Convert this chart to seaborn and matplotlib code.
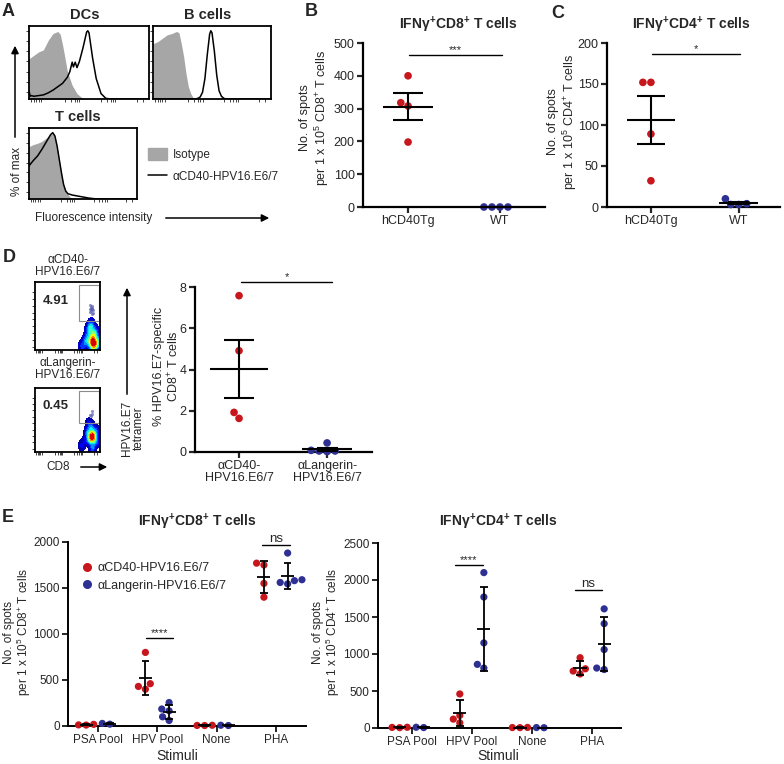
import warnings
import numpy as np
import pandas as pd
import matplotlib
matplotlib.use("Agg")
import matplotlib.pyplot as plt
from matplotlib.patches import FancyArrowPatch, Rectangle, Patch
from matplotlib.lines import Line2D
import seaborn as sns

warnings.filterwarnings("ignore")

# ---------------- data ----------------
# A: histograms (x = fluorescence, 0-1 scale; y = fraction of max)
dc_iso_x = [0, .04, .08, .12, .16, .20, .24, .26, .28, .30, .32, .36, .40, .44, .48, 1.0]
dc_iso_y = [.59, .64, .69, .72, .86, .96, .99, .95, .79, .60, .40, .20, .08, .02, 0, 0]
dc_ab_x = [0, .01, .02, .04, .08, .12, .16, .20, .24, .28, .32, .34, .36, .37, .385, .40,
           .42, .45, .48, .49, .50, .53, .56, .60, .64, .68, 1.0]
dc_ab_y = [.12, .04, .05, .04, .05, .06, .09, .13, .18, .23, .32, .40, .54, .47, .54, .46,
           .55, .75, .98, 1.0, .97, .60, .30, .08, .01, 0, 0]
b_iso_x = [0, .04, .08, .12, .16, .20, .22, .24, .26, .28, .30, .32, .34, .36, 1.0]
b_iso_y = [.81, .84, .89, .94, .96, .99, .97, .81, .62, .37, .18, .08, .02, 0, 0]
b_ab_x = [0, .36, .38, .40, .42, .44, .46, .48, .49, .50, .52, .54, .56, .58, .60, .62, 1.0]
b_ab_y = [0, 0, .01, .03, .10, .30, .65, .95, 1.0, .97, .70, .35, .12, .04, .01, 0, 0]
t_iso_x = [0, .04, .08, .12, .16, .20, .22, .24, .26, .28, .30, .32, .34, .36, .38, .40, .44, 1.0]
t_iso_y = [.79, .82, .84, .87, .92, .97, .99, .94, .79, .59, .39, .22, .12, .07, .03, .01, 0, 0]
t_ab_x = [0, .04, .08, .12, .16, .20, .22, .24, .26, .28, .30, .32, .34, .36, .40, .45,
          .50, .55, .60, .65, 1.0]
t_ab_y = [.50, .58, .65, .75, .86, .97, 1.0, .95, .80, .60, .40, .22, .12, .08, .06, .045,
          .03, .015, .005, 0, 0]

# B / C: ELISpot per mouse
mice = ["hCD40Tg", "WT"]
b_hcd40 = [400, 318, 308, 198]
b_wt = [0, 0, 0, 0]
c_hcd40 = [152, 152, 89, 32]
c_wt = [3, 3, 4, 10]

# D: flow events (CD8 vs tetramer, 0-1 scale) and tetramer+ frequencies
f1_cd8 = [.72, .77, .81, .84, .855, .87, .885, .885, .90, .915, .915, .93, .945, .96, .97, .855,
          .885, .915, .87, .90, .825, .795, .885, .93, .87]
f1_tet = [.05, .10, .20, .10, .28, .08, .14, .18, .10, .04, .22, .12, .08, .16, .10, .34, .12,
          .06, .16, .24, .30, .14, .02, .28, .38]
f1g_cd8 = [.84, .86, .87, .88, .86, .89, .85, .88, .87, .86, .89, .85]
f1g_tet = [.56, .60, .64, .62, .58, .55, .66, .53, .60, .63, .59, .61]
f2_cd8 = [.72, .78, .81, .84, .855, .87, .885, .90, .90, .915, .93, .945, .84, .87, .90, .855,
          .885, .81, .915, .885, .87, .855, .96, .825, .885, .87]
f2_tet = [.10, .18, .30, .20, .36, .25, .28, .22, .32, .15, .26, .34, .20, .40, .24, .28, .08,
          .30, .22, .04, .26, .18, .16, .44, .20, .24]
f2g_cd8 = [.86, .88, .87, .85]
f2g_tet = [.56, .60, .64, .58]
d_groups = ["αCD40-\nHPV16.E6/7", "αLangerin-\nHPV16.E6/7"]
d_cd40 = [7.58, 4.91, 1.92, 1.63]
d_lang = [0.44, 0.05, 0.02, 0.05, 0.08]

# E: ELISpot by stimulus
stimuli = ["PSA Pool", "HPV Pool", "None", "PHA"]
treatments = ["αCD40-HPV16.E6/7", "αLangerin-HPV16.E6/7"]
e8_cd40 = [[18, 12, 10], [800, 460, 430, 400], [8, 6, 5], [1770, 1750, 1550, 1400]]
e8_lang = [[28, 20], [255, 185, 165, 100, 60], [8, 5], [1880, 1590, 1580, 1560, 1545]]
e4_cd40 = [[10, 8, 5], [460, 170, 120, 70], [8, 6, 5], [950, 800, 770, 730]]
e4_lang = [[10, 6], [2100, 1770, 1150, 860, 810], [6, 4], [1610, 1410, 1060, 790, 810]]

# ---------------- style ----------------
RED = "#c8161d"
BLUE = "#2e3192"
GRAY = "#a6a6a6"
W, H = 784, 764

sns.set_theme(style="ticks")
plt.rcParams["font.family"] = ["Liberation Sans", "DejaVu Sans"]
plt.rcParams["mathtext.fontset"] = "custom"
plt.rcParams["mathtext.rm"] = "Liberation Sans"
plt.rcParams["mathtext.bf"] = "Liberation Sans:bold"
plt.rcParams["axes.edgecolor"] = "black"

fig = plt.figure(figsize=(W / 100, H / 100), dpi=100)


def add_ax(x0, y0, x1, y1):
    return fig.add_axes([x0 / W, 1 - y1 / H, (x1 - x0) / W, (y1 - y0) / H])


def ftext(x, y, s, **kw):
    kw.setdefault("ha", "center")
    kw.setdefault("va", "center")
    fig.text(x / W, 1 - y / H, s, **kw)


def farrow(x0, y0, x1, y1):
    fig.add_artist(FancyArrowPatch((x0 / W, 1 - y0 / H), (x1 / W, 1 - y1 / H),
                                   transform=fig.transFigure, arrowstyle="-|>",
                                   mutation_scale=11, lw=1.1, color="black"))


def box_style(ax, xt, yt):
    for s in ax.spines.values():
        s.set_linewidth(1.3)
    ax.set_xticks(xt)
    ax.set_yticks(yt)
    ax.tick_params(length=2, width=0.6, labelbottom=False, labelleft=False, pad=0)
    ax.set_xlabel("")
    ax.set_ylabel("")


def dot_style(ax, lw=1.6):
    sns.despine(ax=ax)
    for s in ["left", "bottom"]:
        ax.spines[s].set_linewidth(lw)
    ax.tick_params(length=4, width=lw, labelsize=9, pad=2)
    ax.set_xlabel("")
    ax.set_ylabel("")
    for c in ax.collections:
        c.set_clip_on(False)


def mean_bar(ax, x, vals, half, cap, use_sd=False, lw=1.5):
    v = np.asarray(vals, float)
    m = v.mean()
    e = v.std(ddof=1) if use_sd else v.std(ddof=1) / np.sqrt(len(v))
    kw = dict(color="black", lw=lw, zorder=6, clip_on=False)
    ax.vlines(x, m - e, m + e, **kw)
    ax.hlines([m - e, m + e], x - cap, x + cap, **kw)
    ax.hlines(m, x - half, x + half, **kw)


def sig(ax, x0, x1, y, label, fs=8):
    ax.plot([x0, x1], [y, y], color="black", lw=1.0, clip_on=False)
    ax.text((x0 + x1) / 2, y, label, ha="center", va="bottom", fontsize=fs, clip_on=False)


log_ticks = [.02, .04, .06, .08, .1, .3, .35, .38, .4, .42, .6, .65, .68, .7, .72, .9, .95]

# ---------------- A ----------------
ftext(8, 12, "A", fontsize=13, fontweight="bold")
for (x0, y0, x1, y1), ttl, tpos, ix, iy, lx, ly in [
        ((29, 26, 149, 99), "DCs", (85, 15), dc_iso_x, dc_iso_y, dc_ab_x, dc_ab_y),
        ((153, 26, 271, 99), "B cells", (208, 15), b_iso_x, b_iso_y, b_ab_x, b_ab_y),
        ((29, 128, 137, 199), "T cells", (78, 117), t_iso_x, t_iso_y, t_ab_x, t_ab_y)]:
    ax = add_ax(x0, y0, x1, y1)
    ax.fill_between(ix, 0, iy, color=GRAY, lw=0)
    sns.lineplot(x=lx, y=ly, ax=ax, color="black", lw=1.1)
    ax.set_xlim(0, 1)
    ax.set_ylim(0, 1.07)
    box_style(ax, log_ticks, np.linspace(0.1, 1.0, 7))
    ftext(*tpos, ttl, fontsize=10.5, fontweight="bold")
    if ttl == "T cells":
        handles = [Patch(color=GRAY, label="Isotype"),
                   Line2D([], [], color="black", lw=1.1, label="αCD40-HPV16.E6/7")]
        ax.legend(handles=handles, loc="upper left", frameon=False, fontsize=8.5,
                  bbox_to_anchor=(143 / W, 1 - 143 / H), bbox_transform=fig.transFigure,
                  borderaxespad=0, handlelength=1.6, handleheight=1.2, handletextpad=0.5,
                  labelspacing=0.75)
farrow(15, 140, 15, 43)
ftext(17, 171, "% of max", fontsize=8.5, rotation=90)
ftext(94, 218, "Fluorescence intensity", fontsize=8.5)
farrow(163, 218, 272, 218)

# ---------------- B & C ----------------
for (x0, y0, x1, y1), letter, lpos, ttl, tpos, g1, g2, ymax, ystep, xl, lab_pos, sig_y, sig_lab, cd in [
        ((363, 43, 545, 207), "B", (311, 12), r"IFNγ$^\mathbf{+}$CD8$^\mathbf{+}$ T cells", (458, 25),
         b_hcd40, b_wt, 500, 100, (-0.49, 1.49), (315, 118), 463, "***", "CD8"),
        ((607, 43, 780, 207), "C", (558, 13), r"IFNγ$^\mathbf{+}$CD4$^\mathbf{+}$ T cells", (691, 25),
         c_hcd40, c_wt, 200, 50, (-0.5, 1.47), (563, 122), 186, "*", "CD4")]:
    ax = add_ax(x0, y0, x1, y1)
    df = pd.DataFrame({"group": [mice[0]] * len(g1) + [mice[1]] * len(g2), "value": g1 + g2})
    sns.swarmplot(data=df, x="group", y="value", hue="group", order=mice, palette=[RED, BLUE],
                  size=5.5, legend=False, ax=ax)
    mean_bar(ax, 0, g1, 0.27, 0.16)
    mean_bar(ax, 1, g2, 0.22, 0.12)
    ax.set_xlim(*xl)
    ax.set_ylim(0, ymax)
    ax.set_yticks(np.arange(0, ymax + 1, ystep))
    dot_style(ax)
    sig(ax, 0.01, 1.02, sig_y, sig_lab)
    ftext(*lpos, letter, fontsize=13, fontweight="bold")
    ftext(*tpos, ttl, fontsize=10, fontweight="bold")
    ftext(*lab_pos, "No. of spots\nper 1 x 10$^{5}$ " + cd + "$^{+}$ T cells",
          fontsize=9, rotation=90, linespacing=1.1)

# ---------------- D ----------------
ftext(9, 258, "D", fontsize=13, fontweight="bold")
for (x0, y0, x1, y1), ttl, ty, pct, mx, my, gx, gy, gate in [
        ((35, 282, 100, 350), "αCD40-\nHPV16.E6/7", 266, "4.91", f1_cd8, f1_tet, f1g_cd8, f1g_tet, (.43, .96)),
        ((35, 388, 100, 452), "αLangerin-\nHPV16.E6/7", 369, "0.45", f2_cd8, f2_tet, f2g_cd8, f2g_tet, (.45, .95))]:
    ax = add_ax(x0, y0, x1, y1)
    sns.kdeplot(x=mx, y=my, fill=True, cmap=plt.get_cmap("jet"), levels=10, thresh=0.02,
                bw_adjust=0.9, ax=ax)
    sns.scatterplot(x=gx, y=gy, color="#5b5fb0", s=5, linewidth=0, alpha=0.7, ax=ax)
    ax.add_patch(Rectangle((0.68, gate[0]), 0.30, gate[1] - gate[0], fill=False,
                           ec="#8c8c8c", lw=0.8))
    ax.set_xlim(0, 1)
    ax.set_ylim(0, 1)
    box_style(ax, log_ticks, [.05, .15, .25, .35, .45, .55, .65, .75, .85])
    ax.text(0.32, 0.72, pct, transform=ax.transAxes, fontsize=9.5, fontweight="bold",
            ha="center", va="center")
    ftext(68, ty, ttl, fontsize=8.5, linespacing=1.0)
ftext(58, 467, "CD8", fontsize=8.5)
farrow(78, 467, 110, 467)
farrow(127, 397, 127, 285)
ftext(133, 428, "HPV16.E7\ntetramer", fontsize=8.5, rotation=90, linespacing=1.0)

ax = add_ax(195, 287, 372, 452)
df = pd.DataFrame({"group": [d_groups[0]] * len(d_cd40) + [d_groups[1]] * len(d_lang),
                   "value": d_cd40 + d_lang})
sns.swarmplot(data=df, x="group", y="value", hue="group", order=d_groups, palette=[RED, BLUE],
              size=5.5, legend=False, ax=ax)
mean_bar(ax, 0, d_cd40, 0.33, 0.17)
mean_bar(ax, 1, d_lang, 0.28, 0.12)
ax.set_xlim(-0.5, 1.51)
ax.set_ylim(0, 8)
ax.set_yticks([0, 2, 4, 6, 8])
dot_style(ax)
for t in ax.get_xticklabels():
    t.set_linespacing(1.0)
sig(ax, 0.02, 1.06, 8.25, "*")
ftext(167, 366, "% HPV16.E7-specific\nCD8$^{+}$ T cells", fontsize=9, rotation=90, linespacing=1.1)

# ---------------- E ----------------
ftext(8, 518, "E", fontsize=13, fontweight="bold")
for (x0, y0, x1, y1), ttl, tx, g1, g2, ymax, xl, lab_x, cd, sigs, show_leg in [
        ((68, 542, 306, 726), r"IFNγ$^\mathbf{+}$CD8$^\mathbf{+}$ T cells", 197, e8_cd40, e8_lang, 2000,
         (-0.506, 3.51), 18, "CD8", [(1 - 0.19, 1 + 0.27, 957, "****", 8), (3 - 0.23, 3 + 0.24, 1967, "ns", 9.5)], True),
        ((378, 543, 621, 728), r"IFNγ$^\mathbf{+}$CD4$^\mathbf{+}$ T cells", 498, e4_cd40, e4_lang, 2500,
         (-0.56, 3.48), 327, "CD4", [(1 - 0.28, 1 + 0.18, 2203, "****", 8), (3 - 0.29, 3 + 0.17, 1865, "ns", 9.5)], False)]:
    ax = add_ax(x0, y0, x1, y1)
    rows = []
    for s, a, b in zip(stimuli, g1, g2):
        rows += [(s, treatments[0], v) for v in a] + [(s, treatments[1], v) for v in b]
    df = pd.DataFrame(rows, columns=["stim", "treat", "value"])
    sns.swarmplot(data=df, x="stim", y="value", hue="treat", order=stimuli, hue_order=treatments,
                  dodge=True, palette=[RED, BLUE], size=5.2, legend=False, ax=ax)
    for i in range(len(stimuli)):
        mean_bar(ax, i - 0.2, g1[i], 0.11, 0.065, use_sd=True, lw=1.3)
        mean_bar(ax, i + 0.2, g2[i], 0.11, 0.065, use_sd=True, lw=1.3)
    ax.set_xlim(*xl)
    ax.set_ylim(0, ymax)
    ax.set_yticks(np.arange(0, ymax + 1, 500))
    dot_style(ax, lw=1.4)
    ax.tick_params(labelsize=8.5)
    for a, b, y, lab, fs in sigs:
        sig(ax, a, b, y, lab, fs)
    ftext(tx, 522, ttl, fontsize=10, fontweight="bold")
    ftext((x0 + x1) / 2 - 10 if show_leg else (x0 + x1) / 2 - 1, 756, "Stimuli", fontsize=10)
    ftext(lab_x, 632, "No. of spots\nper 1 x 10$^{5}$ " + cd + "$^{+}$ T cells",
          fontsize=8.5, rotation=90, linespacing=1.05)
    if show_leg:
        handles = [Line2D([], [], marker="o", ls="", color=c, markersize=5.5, label=t)
                   for c, t in zip([RED, BLUE], treatments)]
        ax.legend(handles=handles, loc="upper left", frameon=False, fontsize=9,
                  bbox_to_anchor=(77 / W, 1 - 557 / H), bbox_transform=fig.transFigure,
                  borderaxespad=0, handlelength=0.8, handletextpad=0.4, labelspacing=0.45)

fig.savefig("out.png", dpi=100)
